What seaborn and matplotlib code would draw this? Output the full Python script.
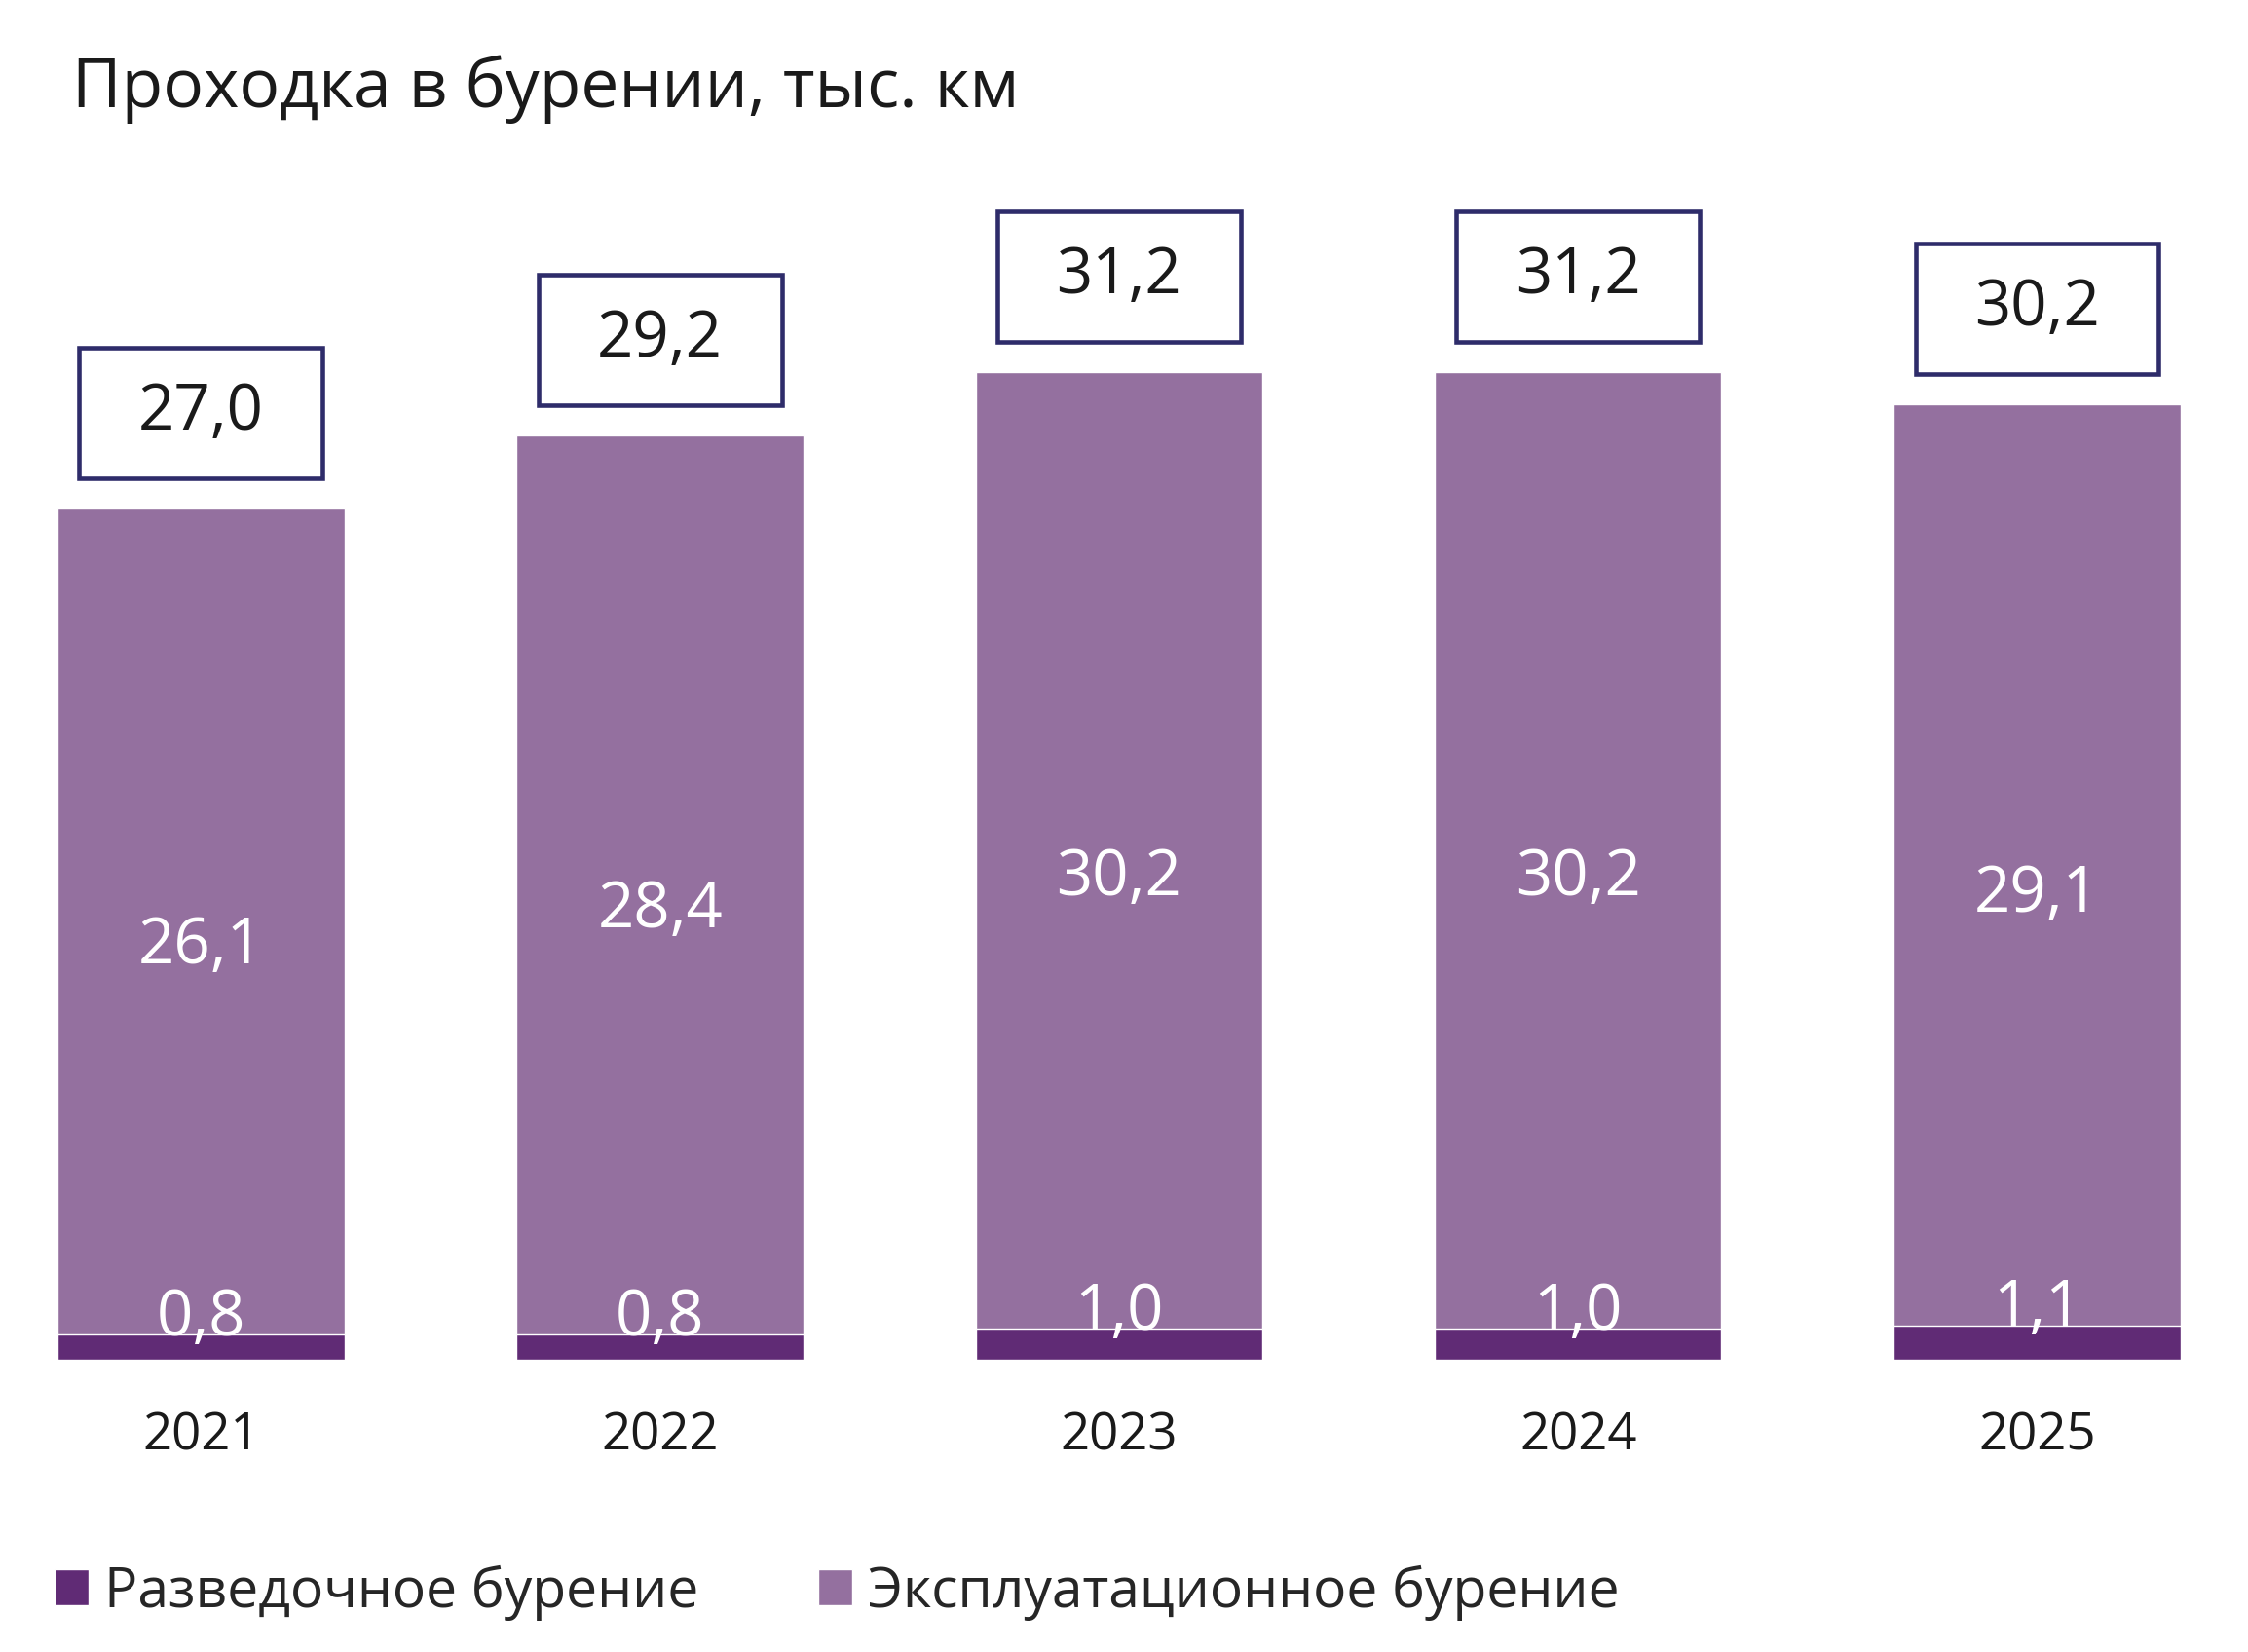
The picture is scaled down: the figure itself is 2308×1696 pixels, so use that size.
import pandas as pd
import numpy as np
import matplotlib
matplotlib.use("Agg")
import matplotlib.pyplot as plt
from matplotlib.patches import Patch, Rectangle
import seaborn as sns

# данные
years = ["2021", "2022", "2023", "2024", "2025"]
razved = [0.8, 0.8, 1.0, 1.0, 1.1]
ekspl = [26.1, 28.4, 30.2, 30.2, 29.1]
totals = [27.0, 29.2, 31.2, 31.2, 30.2]
labels_razved = ["0,8", "0,8", "1,0", "1,0", "1,1"]
labels_ekspl = ["26,1", "28,4", "30,2", "30,2", "29,1"]
labels_total = ["27,0", "29,2", "31,2", "31,2", "30,2"]

c_dark = "#602B75"
c_light = "#94709F"
c_box = "#2E2C6A"

sns.set_style("white")
plt.rcParams['font.family'] = ['Open Sans', 'DejaVu Sans']

df = pd.DataFrame({"year": years, "razved": razved, "ekspl": ekspl})
df["stack"] = df["razved"] + df["ekspl"]

fig = plt.figure(figsize=(23.08, 16.96), dpi=100)
ax = fig.add_axes([0.0256, 0.1766, 0.9444, 0.69])

# сначала полная высота (светлая), поверх - разведочное (тёмная)
sns.barplot(data=df, x="year", y="stack", color=c_light, width=0.625,
            saturation=1, ax=ax)
sns.barplot(data=df, x="year", y="razved", color=c_dark, width=0.625,
            saturation=1, ax=ax)

ax.set_xlim(-0.3125, 4.3125)
ax.set_ylim(0, 36)
ax.set_xlabel("")
ax.set_ylabel("")
ax.set_yticks([])
sns.despine(ax=ax, left=True, bottom=True)
ax.tick_params(axis="x", length=0, pad=37, labelsize=38, labelcolor="#1a1a1a")

for i in range(len(years)):
    tot = df["stack"][i]
    ax.text(i, tot / 2 - 0.4, labels_ekspl[i], ha="center", va="center",
            fontsize=47, color="white")
    ax.text(i, razved[i] + 0.5, labels_razved[i], ha="center", va="center",
            fontsize=47, color="white")
    # рамка с итогом
    y0 = tot + 0.95
    ax.add_patch(Rectangle((i - 0.265, y0), 0.53, 4.12, fill=False,
                           edgecolor=c_box, linewidth=3.3, clip_on=False))
    ax.text(i, y0 + 2.06, labels_total[i], ha="center", va="center",
            fontsize=47, color="#1a1a1a")

fig.text(0.032, 0.946, "Проходка в бурении, тыс. км", fontsize=50,
         color="#1a1a1a", ha="left", va="center")

handles = [Patch(facecolor=c_dark, label="Разведочное бурение"),
           Patch(facecolor=c_light, label="Эксплуатационное бурение")]
fig.legend(handles=handles, loc="center left", bbox_to_anchor=(0.0243, 0.036),
           ncol=2, frameon=False, fontsize=41, handlelength=0.62,
           handleheight=0.62, handletextpad=0.28, columnspacing=2.15,
           borderpad=0, borderaxespad=0)

fig.savefig("out.png", dpi=100, facecolor="white")
